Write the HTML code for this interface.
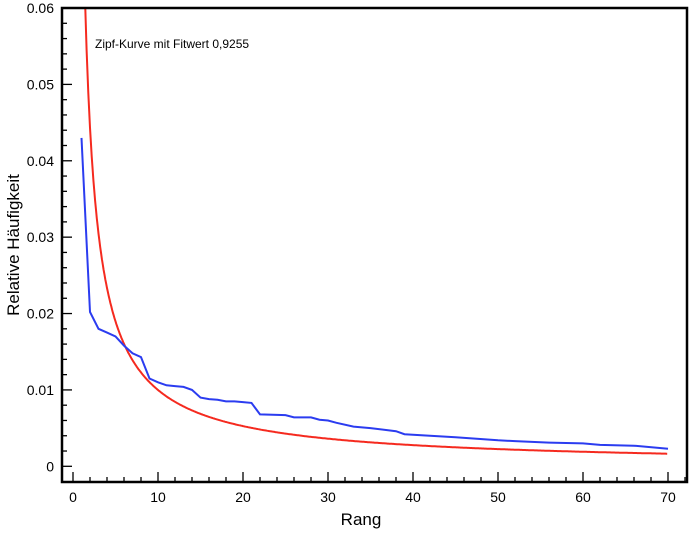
<!DOCTYPE html>
<html><head><meta charset="utf-8"><style>
body{margin:0;background:#fff;width:699px;height:532px;overflow:hidden}
text{font-family:"Liberation Sans",Arial,sans-serif;fill:#000}
</style></head><body>
<svg id="s" width="699" height="532" xmlns="http://www.w3.org/2000/svg">
<defs><clipPath id="c"><rect x="62" y="8" width="625" height="474"/></clipPath></defs>
<g id="g"></g>
<text x="95" y="48" font-size="12">Zipf-Kurve mit Fitwert 0,9255</text>
<text x="361" y="525" font-size="17" text-anchor="middle">Rang</text>
<text transform="translate(19,245) rotate(-90)" font-size="17" text-anchor="middle">Relative Häufigkeit</text>
</svg>
<script>
const X=r=>73+8.5*r, Y=v=>466.3-v*7638;
let h='';
// ticks
for(let i=0;i<=30;i++){const v=i*0.002,y=Y(v),maj=i%5==0;
 h+=`<line x1="62" x2="${maj?72:67}" y1="${y}" y2="${y}" stroke="#000" stroke-width="1.3"/>`;
 if(maj)h+=`<text x="54" y="${y+5}" font-size="14" text-anchor="end">${i==0?'0':(v).toFixed(2)}</text>`;}
for(let r=0;r<=72;r+=2){const x=X(r),maj=r%10==0;
 h+=`<line x1="${x}" x2="${x}" y1="482" y2="${maj?472:477}" stroke="#000" stroke-width="1.3"/>`;
 if(maj)h+=`<text x="${x}" y="502" font-size="14" text-anchor="middle">${r}</text>`;}
// zipf
let p=[];for(let r=1.3;r<=70;r+=0.1)p.push(X(r).toFixed(1)+','+Y(0.0842/Math.pow(r,0.9255)).toFixed(1));
h+=`<polyline clip-path="url(#c)" points="${p.join(' ')}" fill="none" stroke="#f52a1f" stroke-width="2"/>`;
const d={1:.043,2:.0202,3:.018,4:.0175,5:.017,6:.0158,7:.0148,8:.0143,9:.0115,10:.011,11:.0106,12:.0105,13:.0104,14:.0100,15:.009,16:.0088,17:.0087,18:.0085,19:.0085,20:.0084,21:.0083,22:.0068,25:.0067,26:.0064,28:.0064,29:.0061,30:.006,31:.0057,33:.0052,35:.005,38:.0046,39:.0042,45:.0038,50:.0034,52:.0033,56:.0031,60:.003,62:.0028,66:.0027,70:.0023};
p=Object.keys(d).map(k=>X(+k).toFixed(1)+','+Y(d[k]).toFixed(1));
h+=`<polyline points="${p.join(' ')}" fill="none" stroke="#2b3cf0" stroke-width="2"/>`;
h+=`<rect x="62" y="8" width="625" height="474" fill="none" stroke="#000" stroke-width="2.5"/>`;
document.getElementById('g').innerHTML=h;
</script>
</body></html>
